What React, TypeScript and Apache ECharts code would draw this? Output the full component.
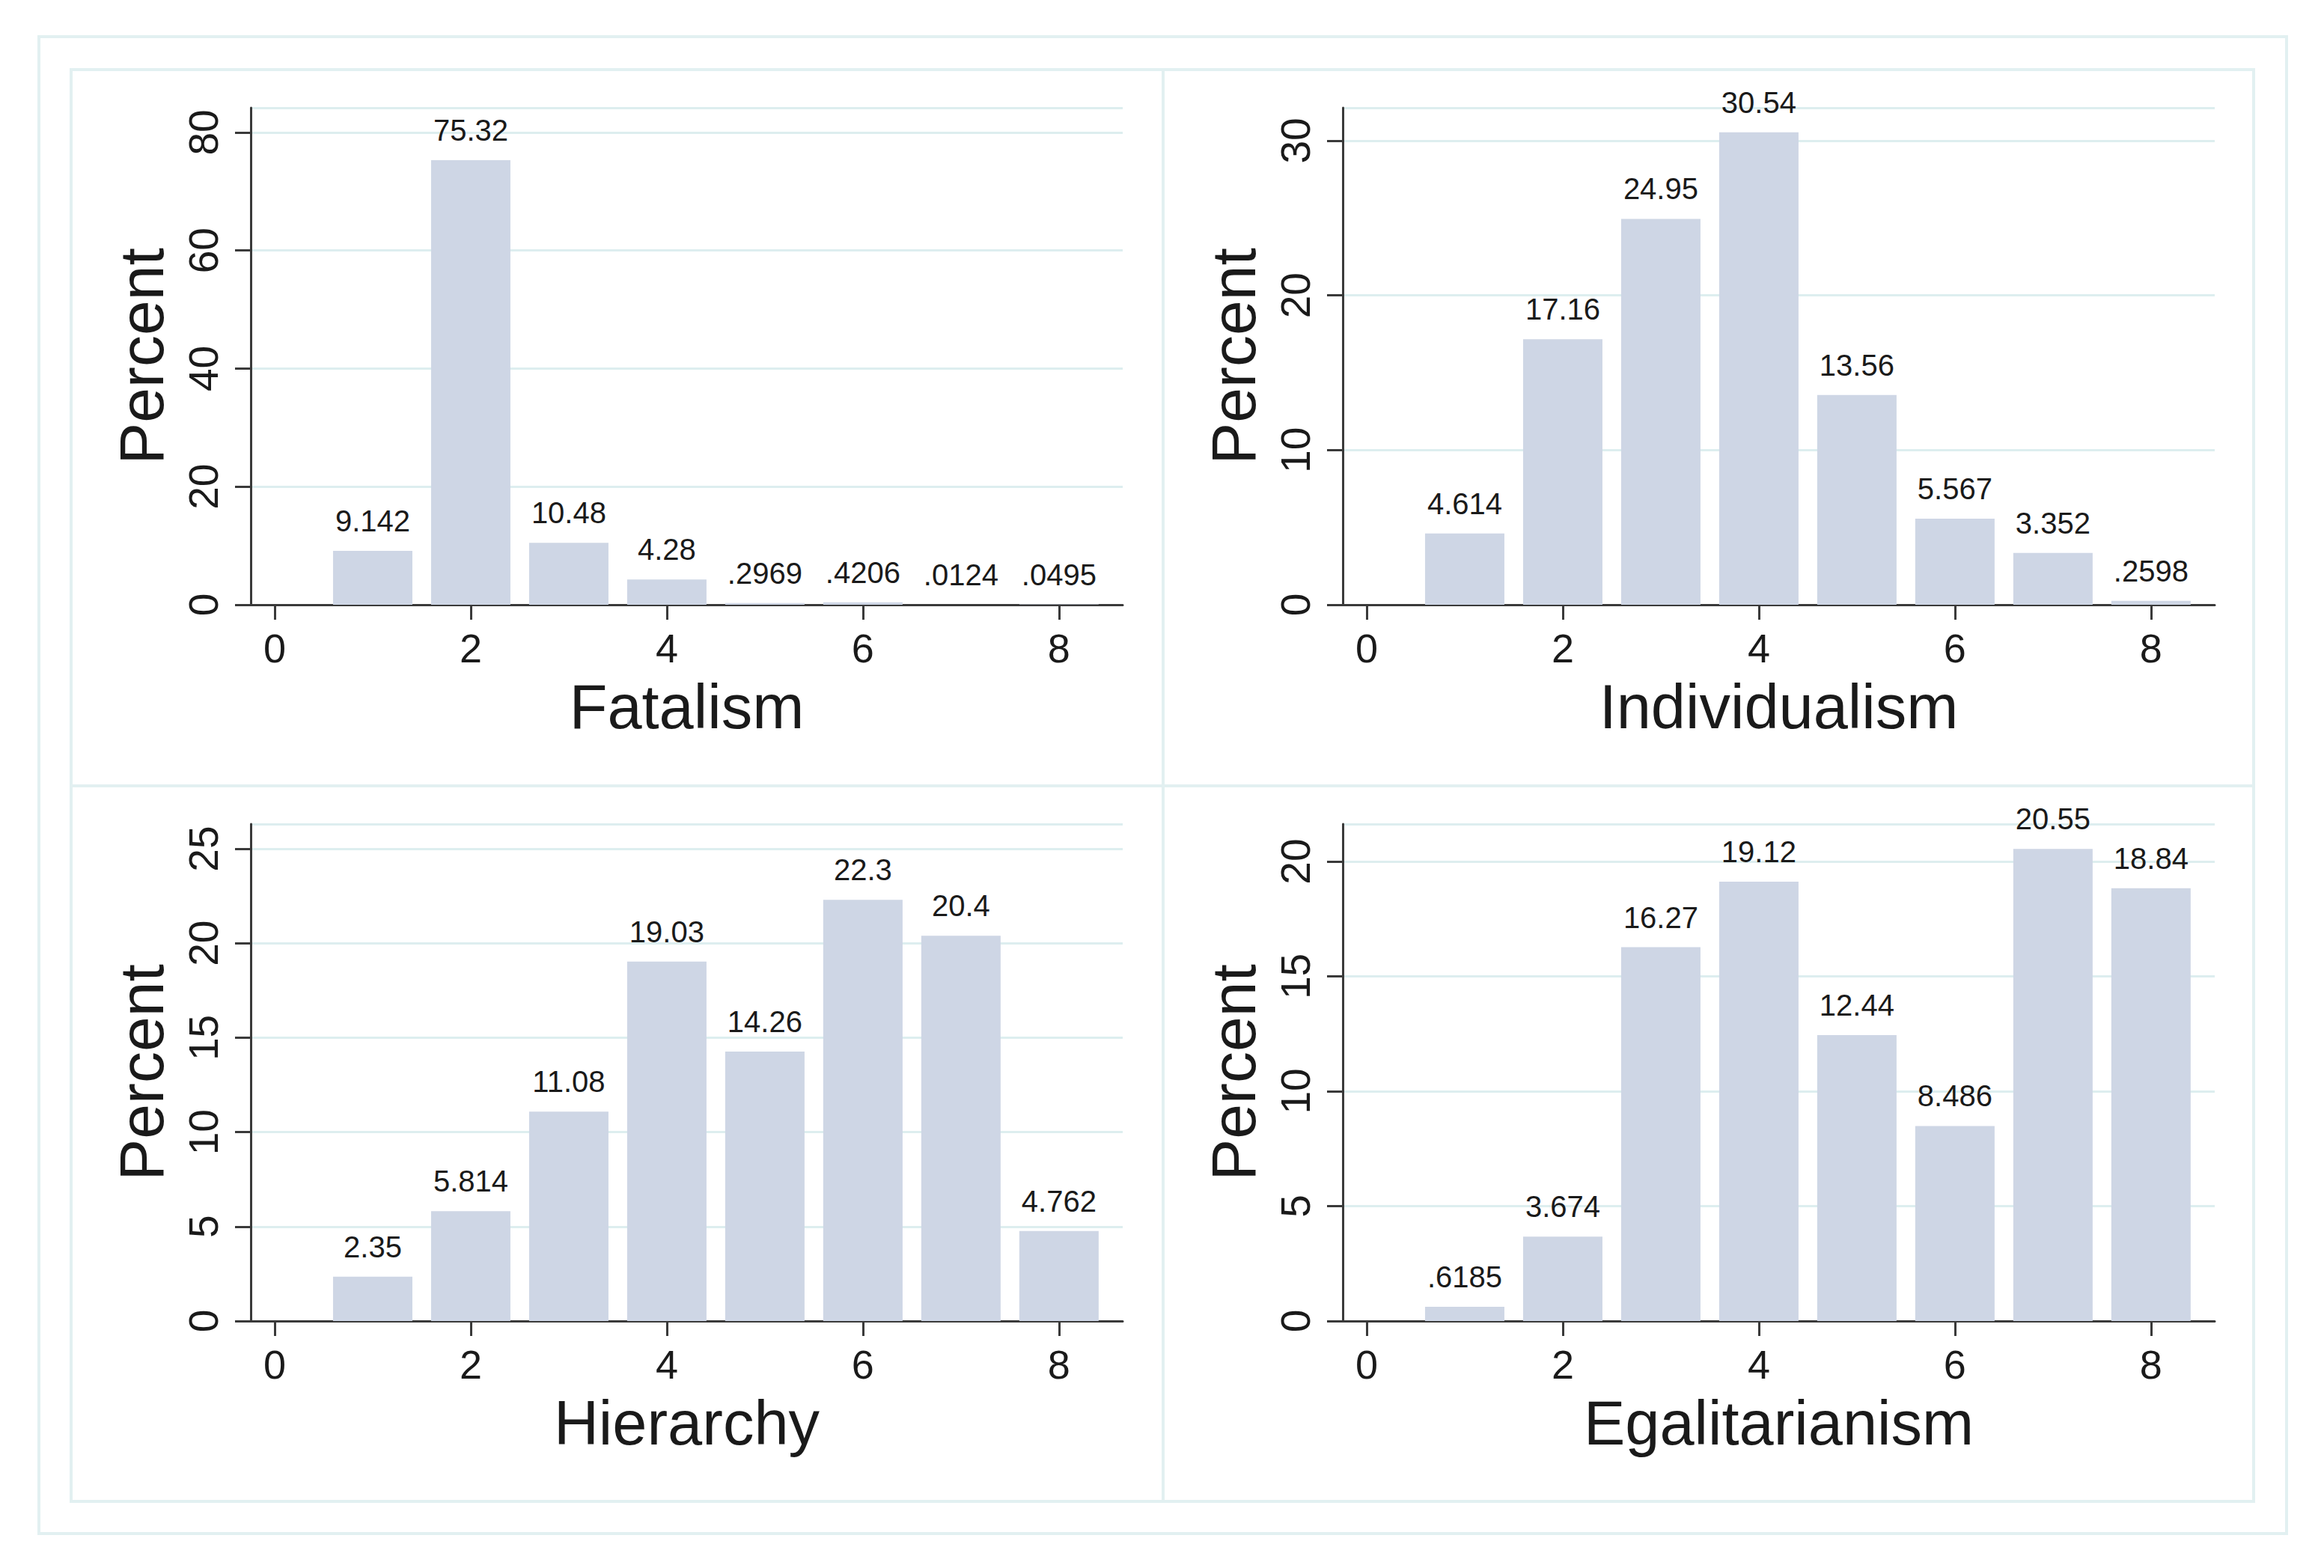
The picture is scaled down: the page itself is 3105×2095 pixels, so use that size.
import React, { useEffect, useRef } from "react";
import * as echarts from "echarts";

const BINS = [1, 2, 3, 4, 5, 6, 7, 8];
const X_TICKS = [0, 2, 4, 6, 8];

const TITLES = ["Fatalism", "Individualism", "Hierarchy", "Egalitarianism"];
const FATALISM = [9.142, 75.32, 10.48, 4.28, 0.2969, 0.4206, 0.0124, 0.0495];
const INDIVIDUALISM = [4.614, 17.16, 24.95, 30.54, 13.56, 5.567, 3.352, 0.2598];
const HIERARCHY = [2.35, 5.814, 11.08, 19.03, 14.26, 22.3, 20.4, 4.762];
const EGALITARIANISM = [0.6185, 3.674, 16.27, 19.12, 12.44, 8.486, 20.55, 18.84];

const Y_MAX = [84.18, 32.13, 26.31, 21.63];
const Y_INTERVAL = [20, 10, 5, 5];

const SERIES = [FATALISM, INDIVIDUALISM, HIERARCHY, EGALITARIANISM];

const FONT = "'Liberation Sans', Arial, Helvetica, sans-serif";
const TEXT = "#1a1a1a";
const AXIS = "#3a3a3a";
const BAR = "#ced6e5";
const GRIDLINE = "#ddeeef";
const BORDER = "#e2f0f1";

const fmt = (v: number) => String(v).replace(/^0\./, ".");

export default function App() {
  const ref = useRef<HTMLDivElement>(null);
  useEffect(() => {
    document.body.style.margin = "0";
    const chart = echarts.init(ref.current!, null, { renderer: "svg" });
    const lefts = [335, 1794, 335, 1794];
    const tops = [144, 144, 1101, 1101];
    const grids = lefts.map((l, i) => ({
      left: l,
      top: tops[i],
      width: 1165,
      height: 664,
      containLabel: false,
    }));
    const xAxes = grids.map((_, i) => ({
      type: "value",
      gridIndex: i,
      min: -0.244,
      max: 8.65,
      name: TITLES[i],
      nameLocation: "middle",
      nameGap: 103,
      nameTextStyle: { fontSize: 83, lineHeight: 66, color: TEXT, fontFamily: FONT },
      axisLine: { show: true, onZero: false, lineStyle: { color: AXIS, width: 3 } },
      axisTick: {
        show: true,
        length: 20,
        lineStyle: { color: AXIS, width: 3 },
        customValues: X_TICKS,
      },
      axisLabel: {
        fontSize: 54,
        lineHeight: 44,
        color: TEXT,
        fontFamily: FONT,
        margin: 36,
        customValues: X_TICKS,
      },
      splitLine: { show: false },
    }));
    const yAxes = grids.map((_, i) => ({
      type: "value",
      gridIndex: i,
      min: 0,
      max: Y_MAX[i],
      interval: Y_INTERVAL[i],
      name: "Percent",
      nameLocation: "middle",
      nameRotate: 90,
      nameGap: 104,
      nameTextStyle: { fontSize: 84, color: TEXT, fontFamily: FONT },
      axisLine: { show: true, onZero: false, lineStyle: { color: AXIS, width: 3 } },
      axisTick: { show: true, length: 21, lineStyle: { color: AXIS, width: 3 } },
      axisLabel: {
        fontSize: 55,
        color: TEXT,
        fontFamily: FONT,
        rotate: 90,
        margin: 36,
        showMaxLabel: false,
        formatter: (v: number) => (v > Y_MAX[i] - 0.001 ? "" : String(v)),
      },
      splitLine: { show: true, lineStyle: { color: GRIDLINE, width: 3 } },
    }));
    const series = SERIES.map((vals, i) => ({
      type: "bar",
      xAxisIndex: i,
      yAxisIndex: i,
      data: BINS.map((x, j) => [x, vals[j]]),
      barWidth: 106,
      itemStyle: { color: BAR },
      label: {
        show: true,
        position: "top",
        distance: 20,
        fontSize: 40,
        color: TEXT,
        fontFamily: FONT,
        formatter: (p: any) => fmt(p.value[1]),
      },
    }));
    const rect = (x1: number, y1: number, x2: number, y2: number) => ({
      type: "rect",
      shape: { x: x1, y: y1, width: x2 - x1, height: y2 - y1 },
      style: { fill: "none", stroke: BORDER, lineWidth: 4 },
      silent: true,
      z: -10,
    });
    chart.setOption({
      animation: false,
      backgroundColor: "#ffffff",
      textStyle: { fontFamily: FONT },
      grid: grids,
      xAxis: xAxes,
      yAxis: yAxes,
      series,
      graphic: [
        rect(52, 49, 3055, 2049),
        rect(95, 93, 1554, 1050),
        rect(1554, 93, 3011, 1050),
        rect(95, 1050, 1554, 2006),
        rect(1554, 1050, 3011, 2006),
      ],
    });
    return () => chart.dispose();
  }, []);
  return (
    <div
      ref={ref}
      style={{ position: "absolute", left: 0, top: 0, width: 3105, height: 2095 }}
    />
  );
}
